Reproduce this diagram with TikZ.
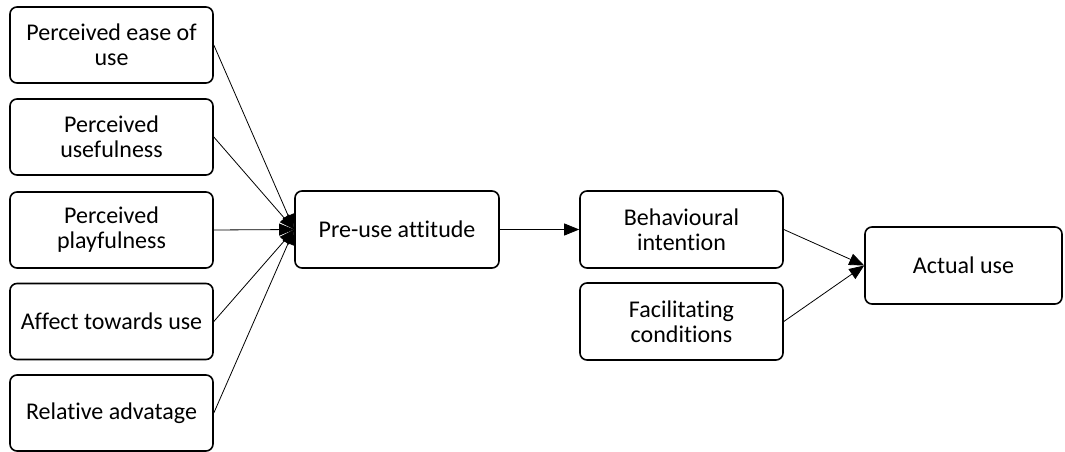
\documentclass[tikz,border=0pt]{standalone}
\usepackage{fontspec}
\setmainfont[Ligatures=NoCommon]{Carlito}
\usetikzlibrary{arrows.meta}
\begin{document}
\begin{tikzpicture}[x=1pt,y=-1pt,
 box/.style={draw, line width=1.6pt, rounded corners=7pt, align=center,
   font=\fontsize{24}{25}\selectfont, inner sep=0pt, minimum height=76pt},
 conn/.style={line width=0.8pt, -{Triangle[length=15pt,width=12pt]}}]
\useasboundingbox (0,0) rectangle (1065,452);
\node[box, minimum width=203pt] (a) at (111.5,45) {Perceived ease of\\use};
\node[box, minimum width=203pt] (b) at (111.5,137) {Perceived\\usefulness};
\node[box, minimum width=203pt] (c) at (111.5,230) {Perceived\\playfulness};
\node[box, minimum width=203pt] (d) at (111.5,321.5) {Affect towards use};
\node[box, minimum width=203pt] (e) at (111.5,413) {Relative advatage};
\node[box, minimum width=204pt, minimum height=77pt] (p) at (397,229.5) {Pre-use attitude};
\node[box, minimum width=203pt, minimum height=77pt] (bi) at (681.5,229.5) {Behavioural\\intention};
\node[box, minimum width=203pt, minimum height=77pt] (fc) at (681.5,321.5) {Facilitating\\conditions};
\node[box, minimum width=197pt, minimum height=77pt] (u) at (963.5,265.5) {Actual use};
\foreach \n in {a,b,c,d,e} \draw[conn] (\n.east) -- (p.west);
\draw[conn] (p.east) -- (bi.west);
\draw[conn] (bi.east) -- (u.west);
\draw[conn] (fc.east) -- (u.west);
\end{tikzpicture}
\end{document}
